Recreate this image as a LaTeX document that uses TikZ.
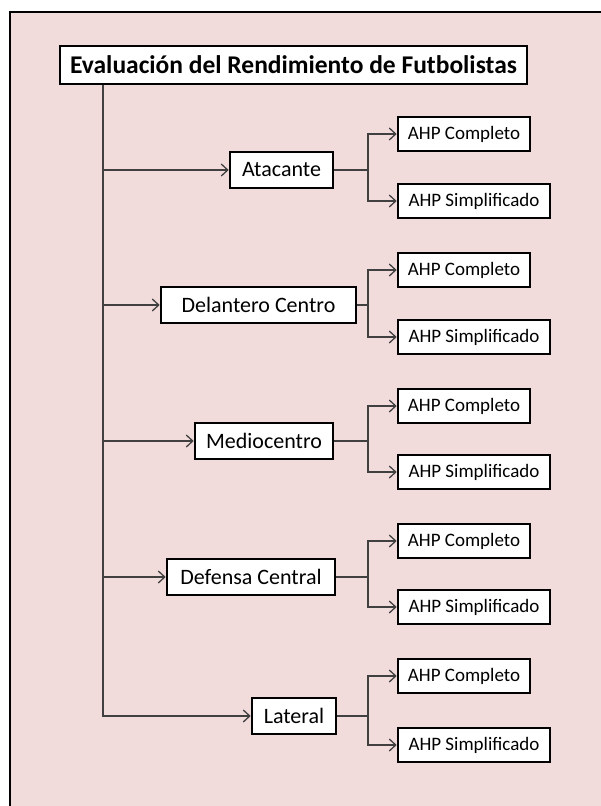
\documentclass[tikz,border=0pt]{standalone}
\usepackage{fontspec}
\setmainfont{Carlito}
\usetikzlibrary{arrows.meta}
\definecolor{panel}{HTML}{F2DCDB}
\definecolor{wire}{HTML}{404040}
\begin{document}
\begin{tikzpicture}[x=1pt,y=-1pt,
  box/.style={draw=black,line width=2.6pt,fill=white,inner sep=0pt},
  headbox/.style={box,minimum width=467pt,minimum height=38pt,font=\bfseries\fontsize{25.5}{28}\selectfont},
  posbox/.style={box,minimum height=36pt,font=\fontsize{22}{25}\selectfont},
  ahpbox/.style={box,minimum height=34pt,font=\fontsize{19}{22}\selectfont},
  wireline/.style={draw=wire,line width=1.3pt},
  link/.style={wireline,-{Straight Barb[length=6.5pt,width=12pt,line width=1.3pt]}}]
\useasboundingbox (0,0) rectangle (600,806);
% panel behind the chart
\fill[panel] (10,12) rectangle (603,809);
\draw[line width=2pt] (10,809) -- (10,12) -- (603,12);

% title
\node[headbox] (title) at (293.5,65) {Evaluación del Rendimiento de Futbolistas};

% positions
\node[posbox,minimum width=103pt] (ata) at (281.5,170) {Atacante};
\node[posbox,minimum width=195pt] (del) at (258.5,305) {Delantero Centro};
\node[posbox,minimum width=138pt] (med) at (264,441) {Mediocentro};
\node[posbox,minimum width=168pt] (def) at (251,577) {Defensa Central};
\node[posbox,minimum width=84pt]  (lat) at (294,716) {Lateral};

% methods per position
\foreach \p/\yc/\ys in {ata/134/201, del/270/337, med/406/472, def/541/607, lat/676/745}{
  \node[ahpbox,minimum width=132pt] (\p c) at (464,\yc) {AHP Completo};
  \node[ahpbox,minimum width=152pt] (\p s) at (474,\ys) {AHP Simplificado};
}

% trunk and branches
\coordinate (tk) at (103,0);
\coordinate (bx) at (368,0);
\draw[link] (title.south -| tk) |- (lat.west);
\foreach \p in {ata,del,med,def}{
  \draw[link] (\p.west -| tk) -- (\p.west);
}
\foreach \p in {ata,del,med,def,lat}{
  \draw[wireline] (\p.east) -- (\p.east -| bx);
  \draw[link] (\p.east -| bx) |- (\p c.west);
  \draw[link] (\p.east -| bx) |- (\p s.west);
}
\end{tikzpicture}
\end{document}
